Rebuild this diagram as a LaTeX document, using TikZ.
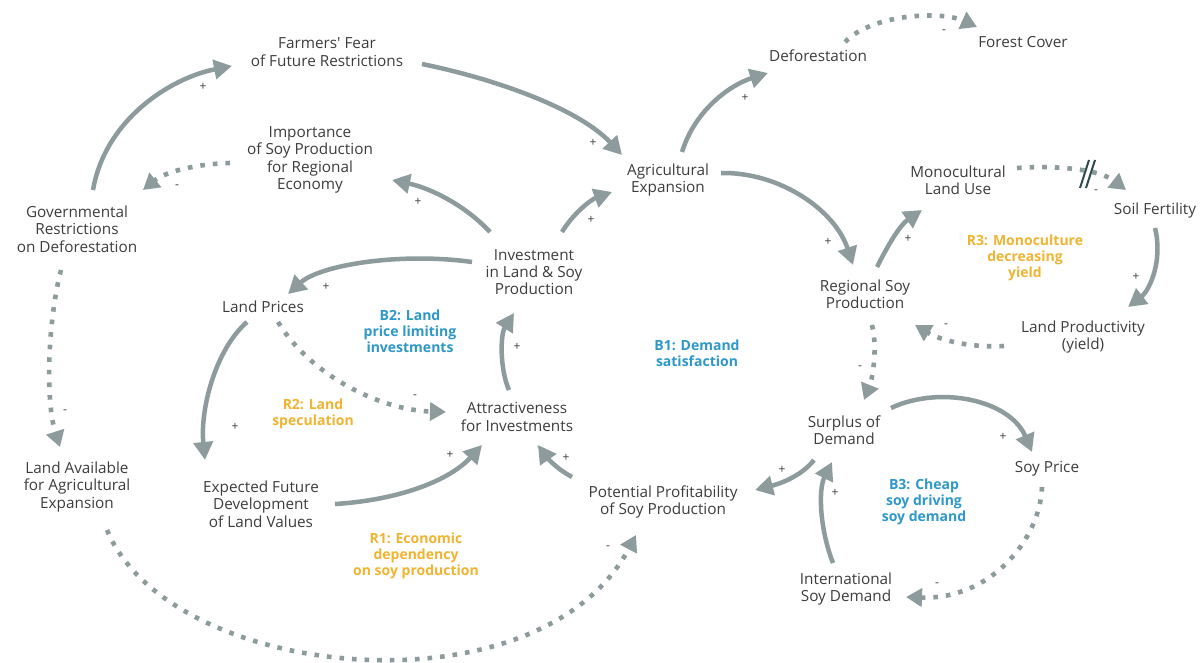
\documentclass[tikz,border=0pt]{standalone}
\usepackage{fontspec}
\setmainfont{Open Sans}[Ligatures=TeXOff]
\usetikzlibrary{arrows.meta,calc}
\definecolor{arrc}{HTML}{8D9B9D}
\definecolor{txtc}{HTML}{3D3D3D}
\definecolor{orng}{HTML}{F0B432}
\definecolor{blu}{HTML}{2E98C8}
\definecolor{delayc}{HTML}{2E4A4A}
\tikzset{
 var/.style={align=center, text=txtc, font=\fontsize{15.3}{17.3}\selectfont, inner sep=0pt},
 loopl/.style={align=center, font=\bfseries\fontsize{14}{15.8}\selectfont, inner sep=0pt},
 ol/.style={loopl, text=orng},
 bl/.style={loopl, text=blu},
 sgn/.style={text=txtc, font=\fontsize{12}{12}\selectfont, inner sep=0pt},
 solidarr/.style={draw=arrc, line width=4.5pt, -{Triangle[length=18pt,width=19pt]}},
 dotarr/.style={draw=arrc, line width=4.6pt, dash pattern=on 4.6pt off 8pt, -{Triangle[length=16pt,width=18pt]}},
 delaymark/.style={draw=delayc, line width=2pt},
}
\begin{document}
\begin{tikzpicture}[x=1pt,y=-1pt]
\path[use as bounding box, fill=white] (0,0) rectangle (1201,663);

% variables
\node[var] (fear) at (327,52) {Farmers' Fear\\of Future Restrictions};
\node[var] (imp) at (310,160) {Importance\\of Soy Production\\for Regional\\Economy};
\node[var] (gov) at (77,229) {Governmental\\Restrictions\\on Deforestation};
\node[var] (inv) at (534,272) {Investment\\in Land \& Soy\\Production};
\node[var] (lp) at (263,307) {Land Prices};
\node[var] (att) at (517,417) {Attractiveness\\for Investments};
\node[var] (la) at (77,487) {Land Available\\for Agricultural\\Expansion};
\node[var] (efd) at (261,504) {Expected Future\\Development\\of Land Values};
\node[var] (pp) at (663,502) {Potential Profitability\\of Soy Production};
\node[var] (ae) at (668,180) {Agricultural\\Expansion};
\node[var] (def) at (818,56) {Deforestation};
\node[var] (fc) at (1023,42) {Forest Cover};
\node[var] (mono) at (958,180) {Monocultural\\Land Use};
\node[var] (sf) at (1155,211) {Soil Fertility};
\node[var] (rsp) at (865,294) {Regional Soy\\Production};
\node[var] (lpy) at (1083,337) {Land Productivity\\(yield)};
\node[var] (sod) at (844,430) {Surplus of\\Demand};
\node[var] (spr) at (1047,469) {Soy Price};
\node[var] (isd) at (846,589) {International\\Soy Demand};

% loop labels
\node[bl] (b2) at (410,331) {B2: Land\\price limiting\\investments};
\node[ol] (r2) at (313,414) {R2: Land\\speculation};
\node[ol] (r1) at (416,556) {R1: Economic\\dependency\\on soy production};
\node[bl] (b1) at (697,353) {B1: Demand\\satisfaction};
\node[ol] (r3) at (1025,258) {R3: Monoculture\\decreasing\\yield};
\node[bl] (b3) at (924,502) {B3: Cheap\\soy driving\\soy demand};

% connectors
\draw[solidarr] ($(gov)+(16,-39)$) .. controls (105,120) and (170,78) .. ($(fear)+(-95,14)$);
\draw[solidarr] ($(fear)+(95,12)$) .. controls (500,80) and (580,110) .. ($(ae)+(-46,-25)$);
\draw[dotarr] ($(imp)+(-80,3)$) .. controls (195,164) and (165,172) .. ($(gov)+(66,-39)$);
\draw[solidarr] ($(inv)+(-44,-40)$) .. controls (465,205) and (430,188) .. ($(imp)+(82,20)$);
\draw[solidarr] ($(inv)+(28,-40)$) .. controls (572,215) and (590,200) .. ($(ae)+(-56,12)$);
\draw[solidarr] ($(inv)+(-62,-10)$) .. controls (400,252) and (320,265) .. ($(lp)+(25,-13)$);
\draw[solidarr] ($(lp)+(-16,15)$) .. controls (215,350) and (200,410) .. ($(efd)+(-56,-44)$);
\draw[dotarr] ($(lp)+(15,15)$) .. controls (310,375) and (380,410) .. ($(att)+(-71,-5)$);
\draw[solidarr] ($(att)+(-8,-27)$) .. controls (500,370) and (500,335) .. ($(inv)+(-20,41)$);
\draw[solidarr] ($(efd)+(74,0)$) .. controls (400,500) and (450,480) .. ($(att)+(-35,28)$);
\draw[solidarr] ($(pp)+(-91,-25)$) .. controls (555,468) and (545,455) .. ($(att)+(21,28)$);
\draw[dotarr] ($(gov)+(-16,41)$) .. controls (48,320) and (45,400) .. ($(la)+(-17,-40)$);
\draw[dotarr] ($(la)+(30,43)$) .. controls (170,682) and (540,717) .. ($(pp)+(-27,33)$);
\draw[solidarr] ($(ae)+(14,-28)$) .. controls (695,110) and (730,85) .. ($(def)+(-50,17)$);
\draw[dotarr] ($(def)+(27,-14)$) .. controls (870,15) and (940,10) .. ($(fc)+(-46,-15)$);
\draw[solidarr] ($(ae)+(53,-7)$) .. controls (780,172) and (835,210) .. ($(rsp)+(-12,-29)$);
\draw[solidarr] ($(rsp)+(12,-27)$) .. controls (888,245) and (900,225) .. ($(mono)+(-36,30)$);
\draw[dotarr] ($(mono)+(59,-12)$) .. controls (1060,165) and (1100,170) .. ($(sf)+(-29,-21)$);
\draw[solidarr] ($(sf)+(0,17)$) .. controls (1163,260) and (1150,290) .. ($(lpy)+(45,-30)$);
\draw[dotarr] ($(lpy)+(-79,9)$) .. controls (970,348) and (940,340) .. ($(rsp)+(50,31)$);
\draw[dotarr] ($(rsp)+(7,31)$) .. controls (878,350) and (872,380) .. ($(sod)+(20,-30)$);
\draw[solidarr] ($(sod)+(47,-22)$) .. controls (940,385) and (1010,400) .. ($(spr)+(-15,-17)$);
\draw[solidarr] ($(sod)+(-30,30)$) .. controls (800,478) and (775,485) .. ($(pp)+(92,-12)$);
\draw[solidarr] ($(isd)+(-13,-26)$) .. controls (820,530) and (818,490) .. ($(sod)+(-12,32)$);
\draw[dotarr] ($(spr)+(-5,18)$) .. controls (1040,540) and (990,600) .. ($(isd)+(60,8)$);

% delay mark
\draw[delaymark] ($(mono)+(122,8)$) -- ($(mono)+(131,-20)$);
\draw[delaymark] ($(mono)+(128,8)$) -- ($(mono)+(137,-20)$);

% polarity signs
\node[sgn] (s1) at (203,87) {+};
\node[sgn] (s2) at (593,143) {+};
\node[sgn] (s3) at (177,187) {-};
\node[sgn] (s4) at (418,202) {+};
\node[sgn] (s5) at (591,220) {+};
\node[sgn] (s6) at (326,287) {+};
\node[sgn] (s7) at (235,427) {+};
\node[sgn] (s8) at (415,397) {-};
\node[sgn] (s9) at (517,347) {+};
\node[sgn] (s10) at (450,455) {+};
\node[sgn] (s11) at (566,458) {+};
\node[sgn] (s12) at (65,412) {-};
\node[sgn] (s13) at (608,548) {-};
\node[sgn] (s14) at (745,98) {+};
\node[sgn] (s15) at (944,32) {-};
\node[sgn] (s16) at (828,242) {+};
\node[sgn] (s17) at (908,239) {+};
\node[sgn] (s18) at (1096,192) {-};
\node[sgn] (s19) at (1136,277) {+};
\node[sgn] (s20) at (946,326) {-};
\node[sgn] (s21) at (860,368) {-};
\node[sgn] (s22) at (1003,437) {+};
\node[sgn] (s23) at (782,470) {+};
\node[sgn] (s24) at (835,493) {+};
\node[sgn] (s25) at (937,585) {-};
\end{tikzpicture}
\end{document}
